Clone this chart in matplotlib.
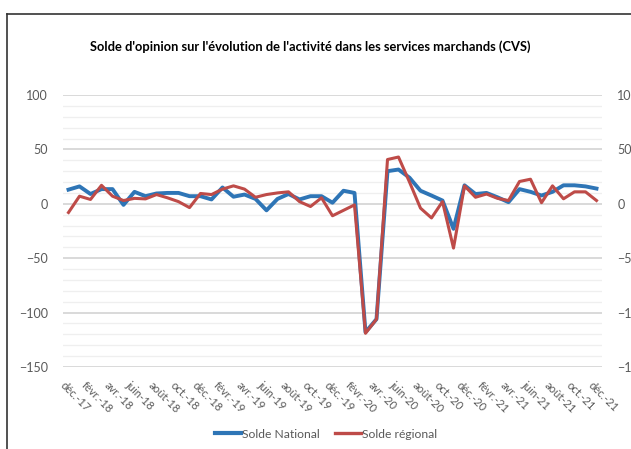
import matplotlib
matplotlib.use("Agg")
import matplotlib.pyplot as plt
from matplotlib.lines import Line2D
import matplotlib.transforms as mtrans
import numpy as np

plt.rcParams['font.family'] = ['Lato', 'DejaVu Sans']

months = ["déc.-17", "janv.-18", "févr.-18", "mars-18", "avr.-18", "mai-18", "juin-18", "juil.-18",
          "août-18", "sept.-18", "oct.-18", "nov.-18", "déc.-18", "janv.-19", "févr.-19", "mars-19",
          "avr.-19", "mai-19", "juin-19", "juil.-19", "août-19", "sept.-19", "oct.-19", "nov.-19",
          "déc.-19", "janv.-20", "févr.-20", "mars-20", "avr.-20", "mai-20", "juin-20", "juil.-20",
          "août-20", "sept.-20", "oct.-20", "nov.-20", "déc.-20", "janv.-21", "févr.-21", "mars-21",
          "avr.-21", "mai-21", "juin-21", "juil.-21", "août-21", "sept.-21", "oct.-21", "nov.-21",
          "déc.-21"]

solde_national = [13, 16, 9, 13.5, 13.5, -1, 11, 7, 9.5, 10, 10, 7, 7, 4, 15, 6.5,
                  8.5, 4.5, -6, 4.5, 9, 4, 7, 7, 1, 12, 10, -118, -106, 30, 31.5, 24,
                  12, 7.6, 3, -23, 17, 9, 10, 6, 1.5, 13.5, 11, 7.6, 11, 17, 17, 16, 14]

solde_regional = [-8, 7, 4, 17, 7, 3, 5, 4.5, 8.5, 5.5, 2, -3.5, 9.5, 8.5, 13.5, 16.5,
                  13.5, 6, 8.5, 10, 11, 2, -2.5, 5.5, -11, -6, -1, -119, -106, 40.7, 43, 20,
                  -4, -13, 2, -40.7, 16.5, 6, 9, 5, 3, 20.5, 22.6, 1, 16.5, 4.6, 11, 11, 3]

tick_idx = list(range(0, len(months), 2))
tick_labels = [months[i] for i in tick_idx]

W, H = 631, 449
fig = plt.figure(figsize=(W / 100, H / 100), dpi=100)
ax = fig.add_axes([63 / W, 1 - 367 / H, (602 - 63) / W, (367 - 95) / H])

x = np.arange(len(months))
ax.plot(x, solde_national, color="#2E75B6", lw=2.8, solid_joinstyle='round', zorder=3)
ax.plot(x, solde_regional, color="#BE4B48", lw=2.2, solid_joinstyle='round', zorder=4)

ax.set_xlim(-0.5, len(months) - 0.5)
ax.set_ylim(-150, 100)

for v in range(-150, 101, 10):
    if v % 50 == 0:
        ax.axhline(v, color="#d9d9d9", lw=1.4, zorder=1)
    else:
        ax.axhline(v, color="#efefef", lw=0.9, zorder=0.5)

for s in ax.spines.values():
    s.set_visible(False)

ax.set_yticks(range(-150, 101, 50))
ax.tick_params(axis='y', length=0, labelsize=9, labelcolor="#595959", pad=11,
               left=True, right=True, labelleft=True, labelright=True)
ax.set_xticks(tick_idx)
ax.set_xticklabels(tick_labels, rotation=-45, ha='left', va='top', rotation_mode='anchor',
                   fontsize=8, color="#595959")
ax.tick_params(axis='x', length=0, pad=9)
offset = mtrans.ScaledTranslation(-3 / 100, 0, fig.dpi_scale_trans)
for lbl in ax.get_xticklabels():
    lbl.set_transform(lbl.get_transform() + offset)

fig.text(310 / W, 1 - 47 / H, "Solde d'opinion sur l'évolution de l'activité dans les services marchands (CVS)",
         ha='center', va='center', fontsize=9.3, fontweight='bold', color="#000000")

leg = fig.legend(handles=[Line2D([0], [0], color="#2E75B6", lw=3.0),
                          Line2D([0], [0], color="#BE4B48", lw=2.4)],
                 labels=["Solde National", "Solde régional"],
                 loc='center', bbox_to_anchor=(326 / W, 1 - 434 / H), ncol=2, frameon=False,
                 fontsize=8.7, handlelength=2.2, handletextpad=0.1, columnspacing=1.2)
for t in leg.get_texts():
    t.set_color("#595959")

# outer frame (cropped at right and bottom)
fig.add_artist(Line2D([7 / W, 7 / W], [1 - 14 / H, 0], color="#333333", lw=1.2, transform=fig.transFigure))
fig.add_artist(Line2D([7 / W, 1], [1 - 14 / H, 1 - 14 / H], color="#333333", lw=1.2, transform=fig.transFigure))

fig.savefig("out.png", dpi=100)
